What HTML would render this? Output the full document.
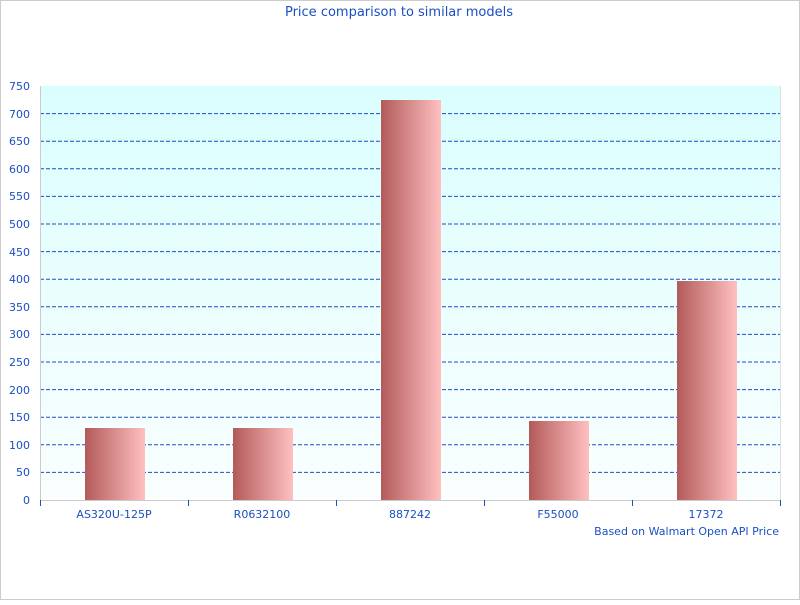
<!DOCTYPE html>
<html><head><style>body{margin:0;background:#fff}</style></head><body>
<svg width="800" height="600" xmlns="http://www.w3.org/2000/svg" font-family="DejaVu Sans, sans-serif" font-size="11" fill="#1a4fc4">
<defs>
<linearGradient id="bg" x1="0" y1="0" x2="0" y2="1"><stop offset="0" stop-color="#dafefe"/><stop offset="1" stop-color="#fafefe"/></linearGradient>
<linearGradient id="bar" x1="0" y1="0" x2="1" y2="0"><stop offset="0" stop-color="#b35a5a"/><stop offset="1" stop-color="#ffc0c0"/></linearGradient>
</defs>
<rect x="0.5" y="0.5" width="799" height="599" fill="#fff" stroke="#ccc"/>
<text x="399" y="16" text-anchor="middle" font-size="13">Price comparison to similar models</text>
<rect x="40" y="86" width="740" height="414" fill="url(#bg)"/>
<g stroke="#1a4fc4" stroke-dasharray="4,2" stroke-width="1">
<path d="M40 472.4H780M40 444.8H780M40 417.2H780M40 389.6H780M40 362H780M40 334.4H780M40 306.8H780M40 279.2H780M40 251.6H780M40 224H780M40 196.4H780M40 168.8H780M40 141.2H780M40 113.6H780"/>
</g>
<g fill="url(#bar)">
<rect x="85" y="428" width="60" height="72"/>
<rect x="233" y="428" width="60" height="72"/>
<rect x="381" y="100" width="60" height="400"/>
<rect x="529" y="421" width="60" height="79"/>
<rect x="677" y="281" width="60" height="219"/>
</g>
<path d="M40.5 86V500.5H780" stroke="#ccc" fill="none"/>
<path d="M780.5 86V500" stroke="#ddd"/>
<g stroke="#1a4fc4"><path d="M40.5 500v6M188.5 500v6M336.5 500v6M484.5 500v6M632.5 500v6M780.5 500v6"/></g>
<g text-anchor="end">
<text x="30" y="504">0</text><text x="30" y="476">50</text><text x="30" y="449">100</text><text x="30" y="421">150</text><text x="30" y="394">200</text><text x="30" y="366">250</text><text x="30" y="338">300</text><text x="30" y="311">350</text><text x="30" y="283">400</text><text x="30" y="256">450</text><text x="30" y="228">500</text><text x="30" y="200">550</text><text x="30" y="173">600</text><text x="30" y="145">650</text><text x="30" y="118">700</text><text x="30" y="90">750</text>
</g>
<g text-anchor="middle">
<text x="114" y="518">AS320U-125P</text><text x="262" y="518">R0632100</text><text x="410" y="518">887242</text><text x="558" y="518">F55000</text><text x="706" y="518">17372</text>
</g>
<text x="779" y="535" text-anchor="end">Based on Walmart Open API Price</text>
</svg>
</body></html>
